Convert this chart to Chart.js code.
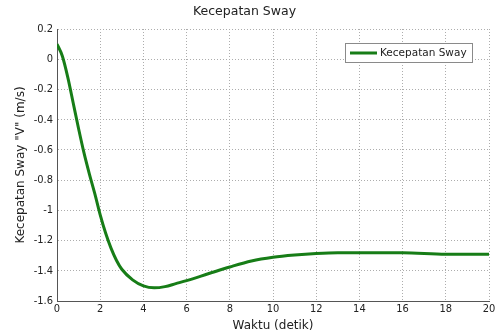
<!DOCTYPE html>
<html>
<head>
<meta charset="utf-8">
<script src="https://cdn.jsdelivr.net/npm/chart.js@4/dist/chart.umd.min.js"></script>
<style>
  html, body { margin: 0; padding: 0; background: #fff; }
  #wrap { width: 498px; height: 335px; }
</style>
</head>
<body>
<div id="wrap"><canvas id="chart" width="498" height="335"></canvas></div>
<script>
// Data
const waktu = [0, 0.25, 0.5, 0.75, 1, 1.25, 1.5, 1.75, 2, 2.25, 2.5, 2.75, 3, 3.5, 4, 4.5, 5, 5.5, 6, 7, 8, 9, 10, 11, 12, 13, 14, 16, 18, 20];
const kecepatan = [0.10, 0.02, -0.12, -0.29, -0.46, -0.62, -0.76, -0.89, -1.03, -1.15, -1.25, -1.33, -1.39, -1.46, -1.50, -1.513, -1.505, -1.485, -1.465, -1.42, -1.375, -1.335, -1.31, -1.295, -1.285, -1.28, -1.28, -1.28, -1.29, -1.29];
const xTicks = [0, 2, 4, 6, 8, 10, 12, 14, 16, 18, 20];
const yTicks = [0.2, 0, -0.2, -0.4, -0.6, -0.8, -1, -1.2, -1.4, -1.6];

const FONT = "'DejaVu Sans Condensed', 'DejaVu Sans', sans-serif";
const FONT_WIDE = "'DejaVu Sans', sans-serif";
const lineColor = '#177d17';

// legend box drawn inside the plot, like matlab
const legendInside = {
    id: 'legendInside',
    afterDraw(chart) {
        const ctx = chart.ctx;
        const area = chart.chartArea;
        const w = 127, h = 19;
        const x = area.right - 17 - w;
        const y = area.top + 14;
        ctx.save();
        ctx.fillStyle = '#fff';
        ctx.fillRect(x, y, w, h);
        ctx.strokeStyle = '#8a8a8a';
        ctx.lineWidth = 1;
        ctx.strokeRect(x + 0.5, y + 0.5, w, h);
        ctx.strokeStyle = lineColor;
        ctx.lineWidth = 3;
        ctx.beginPath();
        ctx.moveTo(x + 5, y + h / 2 + 0.5);
        ctx.lineTo(x + 32, y + h / 2 + 0.5);
        ctx.stroke();
        ctx.fillStyle = '#222';
        ctx.font = '10.5px ' + FONT_WIDE;
        ctx.textBaseline = 'middle';
        ctx.fillText(chart.data.datasets[0].label, x + 35, y + h / 2 + 1);
        ctx.restore();
    }
};

const gridStyle = {
    color: '#adadad',
    lineWidth: 1,
    drawTicks: false
};

new Chart(document.getElementById('chart'), {
    type: 'scatter',
    data: {
        datasets: [{
            label: 'Kecepatan Sway',
            data: waktu.map((t, i) => ({ x: t, y: kecepatan[i] })),
            showLine: true,
            borderColor: lineColor,
            borderWidth: 3,
            pointRadius: 0,
            cubicInterpolationMode: 'monotone',
            fill: false
        }]
    },
    options: {
        responsive: false,
        animation: false,
        layout: { padding: { top: 0, right: 9, bottom: 0, left: 0 } },
        plugins: {
            legend: { display: false },
            tooltip: { enabled: false },
            title: {
                display: true,
                text: 'Kecepatan Sway',
                color: '#222',
                font: { family: FONT_WIDE, size: 12.5, weight: 'normal' },
                padding: { top: 4, bottom: 10 }
            }
        },
        scales: {
            x: {
                type: 'linear',
                min: 0,
                max: 20,
                afterBuildTicks: axis => { axis.ticks = xTicks.map(v => ({ value: v })); },
                afterFit: axis => { axis.height = 34; },
                grid: Object.assign({}, gridStyle),
                border: { display: true, color: '#555', width: 1, dash: [1, 2] },
                ticks: {
                    color: '#222',
                    padding: 2,
                    maxRotation: 0,
                    font: { family: FONT, size: 11 },
                    callback: v => String(v)
                },
                title: {
                    display: true,
                    text: 'Waktu (detik)',
                    color: '#222',
                    padding: { top: 0, bottom: 2 },
                    font: { family: FONT_WIDE, size: 12 }
                }
            },
            y: {
                type: 'linear',
                min: -1.6,
                max: 0.2,
                afterBuildTicks: axis => { axis.ticks = yTicks.map(v => ({ value: v })); },
                afterFit: axis => { axis.width = 57; },
                grid: Object.assign({}, gridStyle),
                border: { display: true, color: '#555', width: 1, dash: [1, 2] },
                ticks: {
                    color: '#222',
                    padding: 4,
                    font: { family: FONT, size: 11 },
                    callback: v => String(Math.round(v * 10) / 10)
                },
                title: {
                    display: true,
                    text: 'Kecepatan Sway "V" (m/s)',
                    color: '#222',
                    padding: { top: 14, bottom: 2 },
                    font: { family: FONT_WIDE, size: 12 }
                }
            }
        }
    },
    plugins: [legendInside]
});
</script>
</body>
</html>
